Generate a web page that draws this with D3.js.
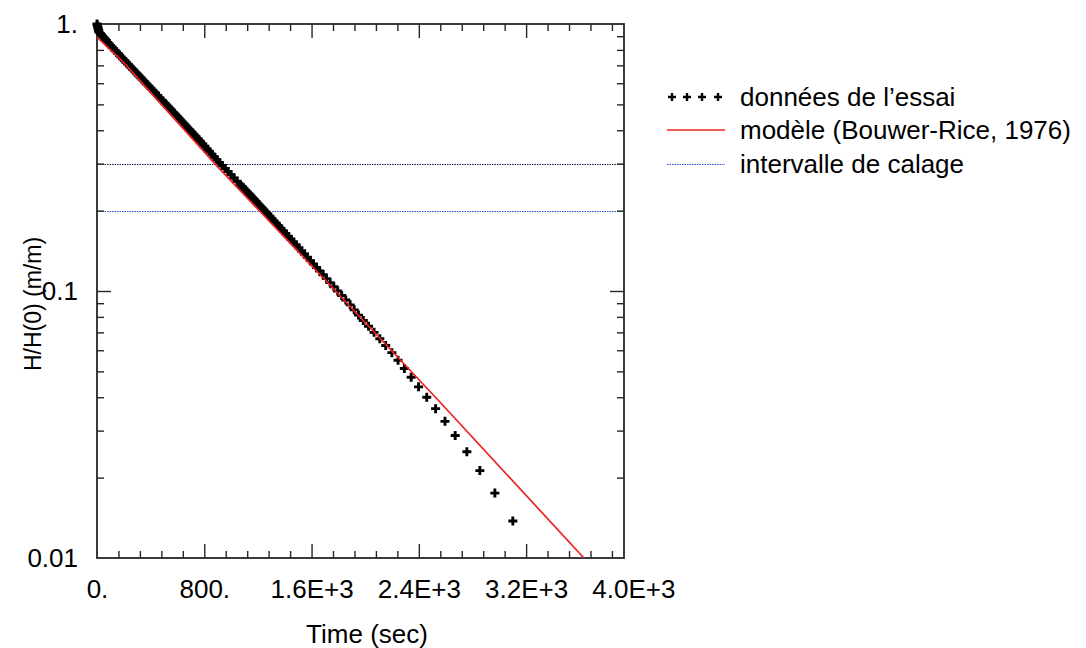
<!DOCTYPE html>
<html><head><meta charset="utf-8">
<script src="https://cdn.jsdelivr.net/npm/d3@7"></script>
<style>
body{margin:0;background:#fff}
svg{display:block}
text{font-family:"Liberation Sans",Arial,Helvetica,sans-serif;fill:#000}
</style>
</head><body>
<svg id="c" width="1086" height="648"></svg>
<script>
// ---- data ----
const dataTime = [0, 2.5, 4.9, 7.5, 10, 12.6, 15.2, 24.5, 33.5, 42.6, 51.8, 61.1, 70.5, 80.1, 89.8, 99.9, 110.9, 122, 133.2, 144.6, 156.2, 168, 179.9, 192, 204.5, 217.2, 230.1, 243.2, 256.6, 270.1, 283.9, 297.9, 312.2, 326.7, 341.6, 356.7, 372.1, 387.8, 403.8, 420.1, 436.7, 453.7, 471.1, 488.4, 506.1,
  518.1, 530.3, 542.7, 555.3, 568.1, 581.1, 594.4, 607.8, 621.4, 635.4, 649.5, 663.9, 678.6, 693.5, 708.7, 724.2, 740, 756.2, 772.5, 788.7, 805.3, 822.2, 839.6, 857.3, 875.4, 894, 913.6, 934.1, 955, 976.6, 998.7, 1021.5, 1044.9, 1069,
  1081.3, 1093.8, 1106.5, 1119.4, 1132.5, 1145.8, 1159.1, 1172.6, 1186.3, 1200.3, 1214.5, 1229, 1243.7, 1258.8, 1274.1, 1289.7, 1305.6, 1321.8, 1338.4, 1355.4, 1372.7, 1390.4, 1408.4, 1426.9, 1445.9, 1465.3, 1485.2, 1505.5, 1526.1, 1547, 1568.6, 1590.7, 1613.5, 1636.9, 1661.1, 1686.1, 1711.9, 1738.6, 1766.2, 1794.9, 1824.6, 1855.5, 1887.8,
  1918, 1950, 1986, 2025, 2066, 2109, 2153, 2199, 2245, 2292, 2343, 2398, 2459, 2525, 2595, 2671, 2758, 2855, 2967, 3101];
const dataHead = [1, 0.98875, 0.9775, 0.96625, 0.955, 0.94375, 0.9325, 0.92125, 0.91, 0.89875, 0.8875, 0.87625, 0.865, 0.85375, 0.8425, 0.83125, 0.82, 0.80875, 0.7975, 0.78625, 0.775, 0.76375, 0.7525, 0.74125, 0.73, 0.71875, 0.7075, 0.69625, 0.685, 0.67375, 0.6625, 0.65125, 0.64, 0.62875, 0.6175, 0.60625, 0.595, 0.58375, 0.5725, 0.56125, 0.55, 0.53875, 0.5275, 0.51625, 0.505,
  0.4975, 0.49, 0.4825, 0.475, 0.4675, 0.46, 0.4525, 0.445, 0.4375, 0.43, 0.4225, 0.415, 0.4075, 0.4, 0.3925, 0.385, 0.3775, 0.37, 0.3625, 0.355, 0.3475, 0.34, 0.3325, 0.325, 0.3175, 0.31, 0.3025, 0.295, 0.2875, 0.28, 0.2725, 0.265, 0.2575, 0.25,
  0.24625, 0.2425, 0.23875, 0.235, 0.23125, 0.2275, 0.22375, 0.22, 0.21625, 0.2125, 0.20875, 0.205, 0.20125, 0.1975, 0.19375, 0.19, 0.18625, 0.1825, 0.17875, 0.175, 0.17125, 0.1675, 0.16375, 0.16, 0.15625, 0.1525, 0.14875, 0.145, 0.14125, 0.1375, 0.13375, 0.13, 0.12625, 0.1225, 0.11875, 0.115, 0.11125, 0.1075, 0.10375, 0.1, 0.09625, 0.0925, 0.08875,
  0.085, 0.08125, 0.0775, 0.07375, 0.07, 0.06625, 0.0625, 0.05875, 0.055, 0.05125, 0.0475, 0.04375, 0.04, 0.03625, 0.0325, 0.02875, 0.025, 0.02125, 0.0175, 0.01375];

const modelTime = [0, 194, 902, 1737, 2557, 3631];
const modelHead = [0.894, 0.721, 0.291, 0.1053, 0.0384, 0.01];

const calibBounds = [0.3, 0.2];

const xTickValues = [0, 800, 1600, 2400, 3200, 4000];
const xTickLabels = ["0.", "800.", "1.6E+3", "2.4E+3", "3.2E+3", "4.0E+3"];
const yTickValues = [1, 0.1, 0.01];
const yTickLabels = ["1.", "0.1", "0.01"];

const legendLabels = ["données de l\u2019essai", "modèle (Bouwer-Rice, 1976)", "intervalle de calage"];
const xTitle = "Time (sec)";
const yTitle = "H/H(0) (m/m)";

// ---- drawing ----
const svg = d3.select('#c');
const L = 97, R = 624, T = 24, B = 558;
const x = d3.scaleLinear().domain([0, 3930]).range([L, R]);
const y = d3.scaleLog().domain([0.01, 1]).range([B, T]);
const FS = 26;
const axisColor = '#262626';

svg.append('defs').append('clipPath').attr('id', 'plotclip')
  .append('rect').attr('x', L).attr('y', T).attr('width', R - L).attr('height', B - T);

// calibration interval lines
const calibColors = ['#101848', '#2a4fd6'];
svg.append('g').selectAll('line').data(calibBounds).join('line')
  .attr('x1', L).attr('x2', R)
  .attr('y1', d => Math.round(y(d)) + 0.5).attr('y2', d => Math.round(y(d)) + 0.5)
  .attr('stroke', (d, i) => calibColors[i]).attr('stroke-width', 1)
  .attr('stroke-dasharray', '1.5,1');

// ticks
const minorX = d3.range(160, 3930, 160).filter(v => v % 800 !== 0);
const majorX = [800, 1600, 2400, 3200];
const minorY = [2,3,4,5,6,7,8,9].map(v => v * 0.01).concat([2,3,4,5,6,7,8,9].map(v => v * 0.1));
const majorY = [0.1];

function tickAxis(gen, vals, size, tx, ty) {
  const g = svg.append('g').attr('transform', `translate(${tx},${ty})`)
    .call(gen.tickValues(vals).tickSize(-size).tickFormat(''));
  g.select('.domain').remove();
  g.selectAll('line').attr('stroke', axisColor).attr('stroke-width', 1.4);
  return g;
}
tickAxis(d3.axisBottom(x), minorX, 7, 0, B);
tickAxis(d3.axisBottom(x), majorX, 14, 0, B);
tickAxis(d3.axisTop(x), minorX, 7, 0, T);
tickAxis(d3.axisTop(x), majorX, 14, 0, T);
tickAxis(d3.axisLeft(y), minorY, 7, L, 0);
tickAxis(d3.axisLeft(y), majorY, 14, L, 0);
tickAxis(d3.axisRight(y), minorY, 7, R, 0);
tickAxis(d3.axisRight(y), majorY, 14, R, 0);

// frame
svg.append('rect').attr('x', L).attr('y', T).attr('width', R - L).attr('height', B - T)
  .attr('fill', 'none').attr('stroke', axisColor).attr('stroke-width', 1.8);

// tick labels
const xl = svg.append('g').attr('transform', `translate(0,${B})`)
  .call(d3.axisBottom(x).tickValues(xTickValues).tickSize(0).tickPadding(22)
    .tickFormat((d, i) => xTickLabels[i]));
xl.select('.domain').remove();
xl.selectAll('text').attr('font-size', FS).attr('fill', '#000');

const yl = svg.append('g').attr('transform', `translate(${L},0)`)
  .call(d3.axisLeft(y).tickValues(yTickValues).tickSize(0).tickPadding(19)
    .tickFormat((d, i) => yTickLabels[i]));
yl.select('.domain').remove();
yl.selectAll('text').attr('font-size', FS).attr('fill', '#000');

// axis titles
svg.append('text').attr('x', 367).attr('y', 643).attr('text-anchor', 'middle')
  .attr('font-size', FS).text(xTitle);
svg.append('text').attr('transform', `translate(41,304) rotate(-90)`)
  .attr('text-anchor', 'middle').attr('font-size', 23).text(yTitle);

// data markers
const pts = dataTime.map((t, i) => ({t, h: dataHead[i]}));
const plus = 'M-4.5,0H4.5M0,-4.5V4.5';
svg.append('g').selectAll('path').data(pts).join('path')
  .attr('transform', d => `translate(${x(d.t)},${y(d.h)})`)
  .attr('d', plus).attr('stroke', '#000').attr('stroke-width', 2.9).attr('fill', 'none');

// model line
const model = modelTime.map((t, i) => ({t, h: modelHead[i]}));
svg.append('path').datum(model)
  .attr('clip-path', 'url(#plotclip)')
  .attr('d', d3.line().x(d => x(d.t)).y(d => y(d.h)))
  .attr('fill', 'none').attr('stroke', '#ee2222').attr('stroke-width', 1.7);

// legend
const lg = svg.append('g');
const lx0 = 667, lx1 = 725, tx = 740;
const rowsY = [97, 130, 164];
[672, 687, 702, 718].forEach(px => {
  lg.append('path').attr('transform', `translate(${px},${rowsY[0]})`)
    .attr('d', 'M-4,0H4M0,-4V4').attr('stroke', '#000').attr('stroke-width', 2.4).attr('fill', 'none');
});
lg.append('line').attr('x1', lx0).attr('x2', lx1).attr('y1', rowsY[1]).attr('y2', rowsY[1])
  .attr('stroke', '#ee2222').attr('stroke-width', 1.7);
lg.append('line').attr('x1', lx0).attr('x2', lx1).attr('y1', rowsY[2] + 0.5).attr('y2', rowsY[2] + 0.5)
  .attr('stroke', '#2a4fd6').attr('stroke-width', 1).attr('stroke-dasharray', '1.5,1');
lg.selectAll('text').data(legendLabels).join('text')
  .attr('x', tx).attr('y', (d, i) => rowsY[i] + 9)
  .attr('font-size', FS).text(d => d);
</script>
</body></html>
